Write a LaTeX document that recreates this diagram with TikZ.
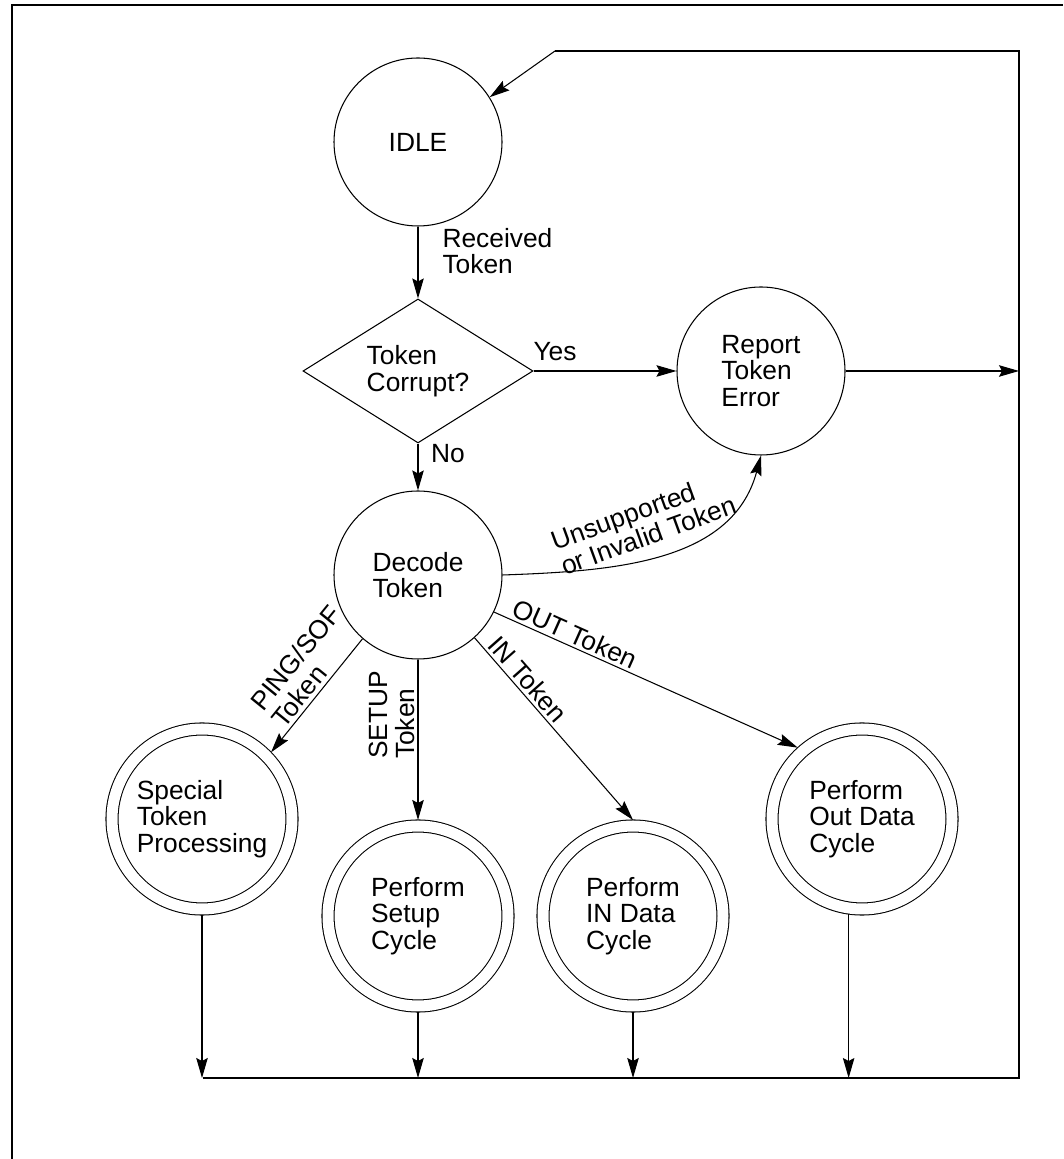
\documentclass[tikz,border=0pt]{standalone}
\usepackage{fontspec}
\setmainfont{Liberation Sans}
\usepackage{tikz}
\usetikzlibrary{arrows.meta, shapes.geometric}

\begin{document}
\begin{tikzpicture}[line width=0.6pt,
  >={Stealth[length=0.4cm,width=0.23cm,inset=0.06cm]},
  every node/.style={font=\fontsize{15}{15.2}\selectfont, align=left},
  statecirc/.style={circle, draw, inner sep=0pt, minimum size=3.36cm},
  doublecirc/.style={circle, draw, double, double distance=0.22cm, inner sep=0pt, minimum size=3.6cm, outer sep=0.12cm},
  decision/.style={diamond, draw, aspect=1.6, inner sep=0pt, minimum width=4.6cm, minimum height=2.88cm},
  lbl/.style={inner sep=0pt}]
\useasboundingbox (0,0) rectangle (21.26,23.18);
% frame
\draw[line width=1.4pt] (0.24,0) -- (0.24,23.08) -- (21.26,23.08);

% states
\node[statecirc] (idle) at (8.36,20.34) {IDLE};
\node[decision] (corrupt) at (8.36,15.76) {Token\\Corrupt?};
\node[statecirc] (report) at (15.22,15.76) {Report\\Token\\Error};
\node[statecirc] (decode) at (8.36,11.68) {Decode\\Token};
\node[doublecirc] (special) at (4.04,6.80) {Special\\Token\\Processing};
\node[doublecirc] (setup) at (8.36,4.86) {Perform\\Setup\\Cycle};
\node[doublecirc] (indata) at (12.66,4.86) {Perform\\IN Data\\Cycle};
\node[doublecirc] (outdata) at (17.24,6.80) {Perform\\Out Data\\Cycle};

\coordinate (bl) at (4.06,1.62);
\coordinate (br) at (20.38,1.62);
\coordinate (tr) at (20.38,22.16);
\coordinate (tl) at (11.10,22.16);

% transitions
\draw[->] (idle) -- (corrupt);
\node[lbl, anchor=west] (lrecv) at (8.84,18.16) {Received\\Token};
\draw[->] (corrupt) -- (report);
\node[lbl] (lyes) at (11.1,16.14) {Yes};
\draw[->] (corrupt) -- (decode);
\node[lbl] (lno) at (8.96,14.10) {No};
\draw[->] (report) -- (report -| tr);
\draw[->] (decode.east) to[out=2,in=-105] (report.south);
\node[lbl, rotate=20] (lunsup) at (12.88,12.72) {Unsupported\\or Invalid Token};

\draw[->] (decode.229) -- (special.44);
\node[lbl, rotate=51] (lping) at (6.12,9.86) {PING/SOF\\Token};
\draw[->] (decode) -- (setup);
\node[lbl, rotate=90] (lsetup) at (7.84,8.88) {SETUP\\Token};
\draw[->] (decode.312) -- (indata.north);
\node[lbl, rotate=-48.5] (lin) at (10.56,9.60) {IN Token};
\draw[->] (decode.-26) -- (outdata.132);
\node[lbl, rotate=-24] (lout) at (11.5,10.5) {OUT Token};

% back to idle
\foreach \n in {special,setup,indata}
  \draw[->] (\n) -- (\n |- bl);
\draw[->] (outdata.-98) -- (outdata.-98 |- bl);
\draw (bl) -- (br) -- (tr) -- (tl);
\draw[->] (tl) -- (idle.32);
\end{tikzpicture}
\end{document}
